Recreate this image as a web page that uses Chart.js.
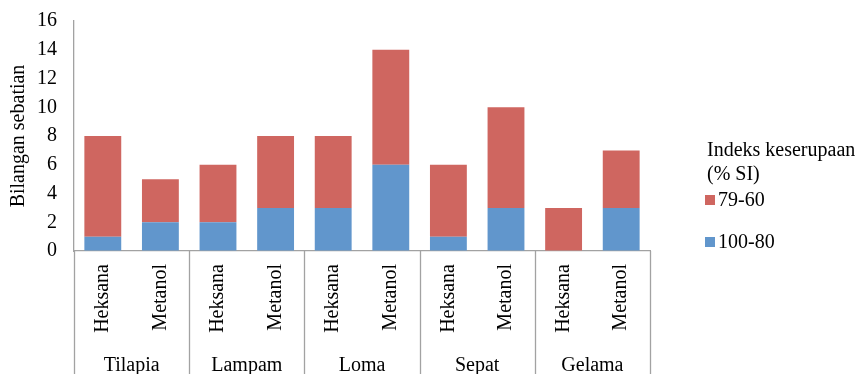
<!DOCTYPE html>
<html>
<head>
<meta charset="utf-8">
<script src="https://cdn.jsdelivr.net/npm/chart.js@4.4.0/dist/chart.umd.min.js"></script>
<style>
  html, body { margin: 0; padding: 0; background: #ffffff; }
  #wrap { width: 864px; height: 374px; }
</style>
</head>
<body>
<div id="wrap"><canvas id="c" width="864" height="374"></canvas></div>
<script>
// Fish species (groups) and extraction solvents (one bar each)
const groups = ['Tilapia', 'Lampam', 'Loma', 'Sepat', 'Gelama'];
const solvents = ['Heksana', 'Metanol'];
const categories = groups.flatMap(() => solvents);

// Number of compounds per similarity-index band
const si100to80 = [1, 2, 2, 3, 3, 6, 1, 3, 0, 3];
const si79to60 = [7, 3, 4, 5, 5, 8, 5, 7, 3, 4];

const yTicks = [0, 2, 4, 6, 8, 10, 12, 14, 16];

const legendTitle = ['Indeks keserupaan', '(% SI)'];

const BLUE = '#6196cc';
const RED = '#cf6660';
const AXIS = '#a2a2a2';
const FONT = 'Liberation Serif';

// Vertical separators between species groups plus a hand-drawn legend
const groupFrame = {
  id: 'groupFrame',
  afterDraw(chart) {
    const { ctx, chartArea, scales } = chart;
    const x = scales.x;
    const step = x.getPixelForValue(1) - x.getPixelForValue(0);
    ctx.save();
    ctx.strokeStyle = AXIS;
    ctx.lineWidth = 1.3;
    for (let g = 0; g <= groups.length; g++) {
      const px = g < groups.length
        ? x.getPixelForValue(g * solvents.length) - step / 2
        : x.getPixelForValue(categories.length - 1) + step / 2;
      ctx.beginPath();
      ctx.moveTo(Math.round(px) + 0.5, chartArea.bottom);
      ctx.lineTo(Math.round(px) + 0.5, chart.height);
      ctx.stroke();
    }

    // legend
    ctx.fillStyle = '#000';
    ctx.font = '20px "' + FONT + '"';
    ctx.textBaseline = 'middle';
    ctx.textAlign = 'left';
    ctx.fillText(legendTitle[0], 707, 151);
    ctx.fillText(legendTitle[1], 707, 175);
    const items = [
      { ds: chart.data.datasets[1], y: 201 },
      { ds: chart.data.datasets[0], y: 243 }
    ];
    items.forEach(it => {
      ctx.fillStyle = it.ds.backgroundColor;
      ctx.fillRect(705, it.y - 6, 10, 10);
      ctx.fillStyle = '#000';
      ctx.fillText(it.ds.label, 718, it.y);
    });
    ctx.restore();
  }
};

new Chart(document.getElementById('c'), {
  type: 'bar',
  data: {
    labels: categories,
    datasets: [
      { label: '100-80', data: si100to80, backgroundColor: BLUE, stack: 's' },
      { label: '79-60', data: si79to60, backgroundColor: RED, stack: 's' }
    ]
  },
  options: {
    responsive: false,
    animation: false,
    layout: { padding: { top: 21, right: 214, left: 0, bottom: 0 } },
    datasets: { bar: { categoryPercentage: 1, barPercentage: 0.64 } },
    plugins: { legend: { display: false }, tooltip: { enabled: false } },
    scales: {
      x: {
        stacked: true,
        weight: 0,
        grid: { display: false, drawTicks: false },
        border: { display: true, color: AXIS, width: 1.3 },
        ticks: {
          color: '#000',
          font: { family: FONT, size: 20 },
          minRotation: 90,
          maxRotation: 90,
          padding: 13,
          autoSkip: false
        },
        afterFit(scale) { scale.height = 96; }
      },
      x2: {
        type: 'category',
        labels: groups,
        offset: true,
        position: 'bottom',
        weight: 1,
        grid: { display: false, drawTicks: false },
        border: { display: false },
        ticks: {
          color: '#000',
          font: { family: FONT, size: 20 },
          maxRotation: 0,
          padding: 7,
          autoSkip: false
        },
        afterFit(scale) { scale.height = 27; }
      },
      y: {
        stacked: true,
        min: 0,
        max: 16,
        afterBuildTicks(scale) { scale.ticks = yTicks.map(v => ({ value: v })); },
        grid: {
          display: true,
          drawOnChartArea: false,
          drawTicks: true,
          tickLength: 13,
          tickColor: 'rgba(0,0,0,0)'
        },
        border: { display: true, color: AXIS, width: 1.3 },
        ticks: {
          color: '#000',
          font: { family: FONT, size: 20 },
          padding: 4
        },
        title: {
          display: true,
          text: 'Bilangan sebatian',
          color: '#000',
          font: { family: FONT, size: 20 },
          padding: { top: 7, bottom: 0 }
        },
        afterFit(scale) { scale.width = 74; }
      }
    }
  },
  plugins: [groupFrame]
});
</script>
</body>
</html>
